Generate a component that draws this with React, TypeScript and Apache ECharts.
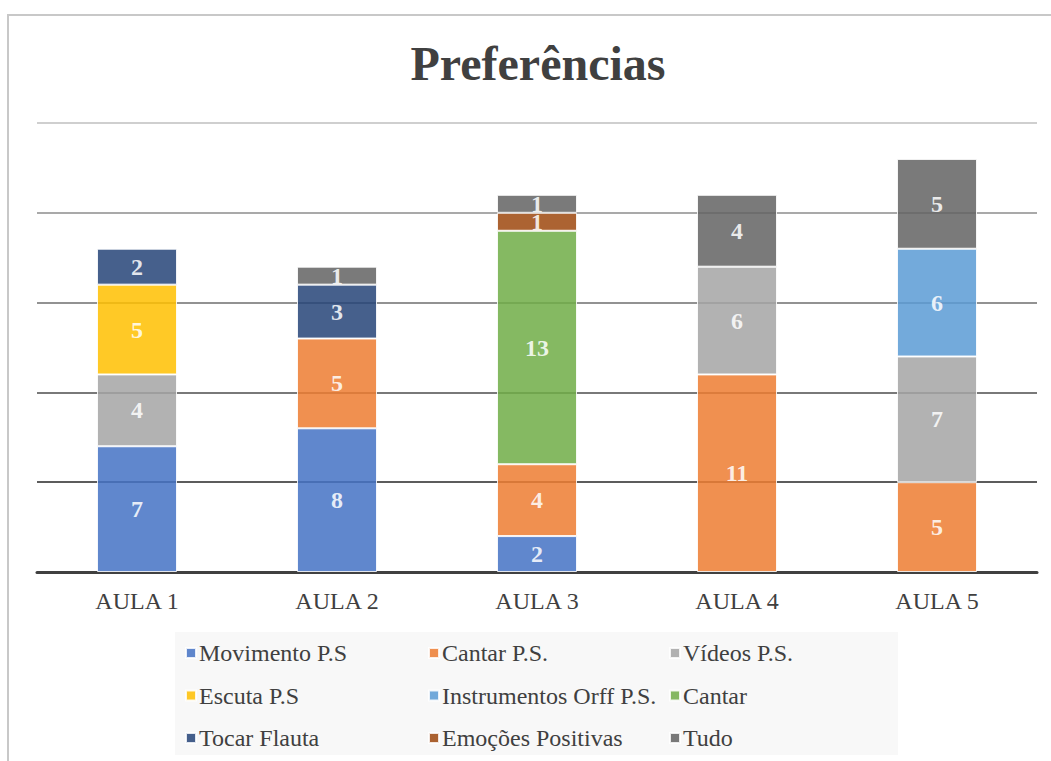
import React, { useEffect, useRef } from "react";
import * as echarts from "echarts";

const categories = ["AULA 1", "AULA 2", "AULA 3", "AULA 4", "AULA 5"];
const seriesNames = [
  "Movimento P.S",
  "Cantar P.S.",
  "Vídeos P.S.",
  "Escuta P.S",
  "Instrumentos Orff P.S.",
  "Cantar",
  "Tocar Flauta",
  "Emoções Positivas",
  "Tudo",
];
const movimento = [7, 8, 2, 0, 0];
const cantarPS = [0, 5, 4, 11, 5];
const videos = [4, 0, 0, 6, 7];
const escuta = [5, 0, 0, 0, 0];
const orff = [0, 0, 0, 0, 6];
const cantar = [0, 0, 13, 0, 0];
const flauta = [2, 3, 0, 0, 0];
const emocoes = [0, 0, 1, 0, 0];
const tudo = [0, 1, 1, 4, 5];
const seriesValues = [movimento, cantarPS, videos, escuta, orff, cantar, flauta, emocoes, tudo];
const colors = ["#4472C4", "#ED7D31", "#A5A5A5", "#FFC000", "#5B9BD5", "#70AD47", "#264478", "#9E480E", "#636363"];

const FONT = "'Liberation Serif', 'Times New Roman', serif";

export default function App() {
  const ref = useRef<HTMLDivElement>(null);
  useEffect(() => {
    document.body.style.margin = "0";
    const chart = echarts.init(ref.current!, null, { renderer: "svg" });
    const legendCols = [
      { left: 180, names: [seriesNames[0], seriesNames[3], seriesNames[6]] },
      { left: 423, names: [seriesNames[1], seriesNames[4], seriesNames[7]] },
      { left: 664, names: [seriesNames[2], seriesNames[5], seriesNames[8]] },
    ];
    chart.setOption({
      animation: false,
      color: colors,
      title: {
        text: "Preferências",
        left: 533,
        textAlign: "center",
        top: 34,
        textStyle: { fontFamily: FONT, fontSize: 48, fontWeight: "bold", color: "#404040" },
      },
      graphic: [
        {
          type: "rect",
          z: -10,
          shape: { x: 8, y: 15, width: 1100, height: 800 },
          style: { fill: "#fff", stroke: "#C8C8C8", lineWidth: 2 },
        },
        {
          type: "rect",
          z: -5,
          shape: { x: 175, y: 632, width: 723, height: 123 },
          style: { fill: "#F8F8F8" },
        },
      ],
      legend: legendCols.map((c) => ({
        orient: "vertical",
        left: c.left,
        top: 636,
        itemGap: 18.5,
        itemWidth: 10,
        itemHeight: 10,
        icon: "rect",
        data: c.names,
        textStyle: { fontFamily: FONT, fontSize: 24, color: "#404040", padding: [0, 0, 0, -2] },
      })),
      grid: { left: 37, right: 14, top: 123, bottom: 189 },
      xAxis: {
        type: "category",
        data: categories,
        axisTick: { show: false },
        axisLine: { lineStyle: { color: "#404040", width: 3 } },
        axisLabel: { fontFamily: FONT, fontSize: 24, color: "#404040", margin: 17 },
      },
      yAxis: {
        type: "value",
        min: 0,
        max: 25,
        interval: 5,
        axisLabel: { show: false },
        axisLine: { show: false },
        axisTick: { show: false },
        splitLine: {
          lineStyle: {
            width: 1.5,
            color: ["#404040", "#262626", "#4d4d4d", "#6e6e6e", "#8c8c8c", "#bfbfbf"],
          },
        },
      },
      series: seriesNames.map((name, i) => ({
        name,
        type: "bar",
        stack: "total",
        barWidth: "40%",
        z: 1,
        data: seriesValues[i].map((v) => (v === 0 ? null : v)),
        itemStyle: { opacity: 0.85, borderColor: "#ffffff", borderWidth: 1 },
        label: {
          show: true,
          position: "inside",
          fontFamily: FONT,
          fontSize: 24,
          fontWeight: "bold",
          color: "#ffffff",
        },
      })),
    });
    return () => chart.dispose();
  }, []);
  return <div ref={ref} style={{ width: 1051, height: 761 }} />;
}
